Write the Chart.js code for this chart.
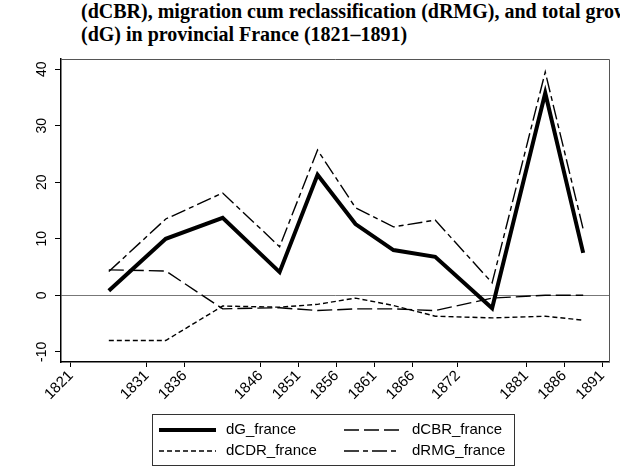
<!DOCTYPE html>
<html>
<head>
<meta charset="utf-8">
<script src="https://cdn.jsdelivr.net/npm/chart.js@4.4.1/dist/chart.umd.min.js"></script>
<style>
  html, body { margin: 0; padding: 0; background: #fff; overflow: hidden; }
  #wrap { position: relative; width: 620px; height: 472px; overflow: hidden; }
  #title {
    position: absolute; left: 81px; top: 0px;
    font: bold 20px "Liberation Serif", "Times New Roman", serif;
    line-height: 23px; white-space: nowrap; color: #000;
  }
  canvas { position: absolute; left: 0; top: 0; }
</style>
</head>
<body>
<div id="wrap">
  <div id="title">(dCBR), migration cum reclassification (dRMG), and total growth<br>(dG) in provincial France (1821–1891)</div>
  <canvas id="chart" width="620" height="472"></canvas>
</div>
<script>
// period midpoints
const years = [1826, 1833.5, 1841, 1848.5, 1853.5, 1858.5, 1863.5, 1869, 1876.5, 1883.5, 1888.5];
const dG    = [0.8, 10.0, 13.7, 4.1, 21.3, 12.6, 8.0, 6.8, -2.3, 35.8, 7.5];
const dCBR  = [4.5, 4.3, -2.4, -2.2, -2.7, -2.4, -2.4, -2.7, -0.5, 0.0, 0.0];
const dCDR  = [-8.0, -8.0, -1.9, -2.1, -1.6, -0.5, -1.8, -3.7, -4.0, -3.7, -4.4];
const dRMG  = [4.2, 13.5, 18.1, 8.6, 25.7, 15.5, 12.1, 13.3, 2.2, 39.5, 11.7];

const xTicks = [1821, 1831, 1836, 1846, 1851, 1856, 1861, 1866, 1872, 1881, 1886, 1891];
const yTicks = [-10, 0, 10, 20, 30, 40];

const pts = arr => arr.map((v, i) => ({ x: years[i], y: v }));
const FONT = '"Liberation Sans", Arial, sans-serif';

// frame, rotated y labels, boxed legend
const decor = {
  id: 'decor',
  afterDraw(chart) {
    const { ctx, chartArea: a, scales } = chart;
    ctx.save();
    ctx.strokeStyle = '#555';
    ctx.lineWidth = 1;
    ctx.beginPath();
    ctx.moveTo(a.left, a.top + 0.5);
    ctx.lineTo(a.right + 0.5, a.top + 0.5);
    ctx.lineTo(a.right + 0.5, a.bottom);
    ctx.stroke();

    // y tick labels, reading upward
    const ys = scales.y;
    ctx.fillStyle = '#000';
    ctx.font = '14px ' + FONT;
    ctx.textAlign = 'center';
    ctx.textBaseline = 'middle';
    ys.ticks.forEach(t => {
      const py = ys.getPixelForValue(t.value);
      ctx.save();
      ctx.translate(42, py);
      ctx.rotate(-Math.PI / 2);
      ctx.fillText(String(t.value), 0, 0);
      ctx.restore();
    });

    // legend
    ctx.strokeStyle = '#333';
    ctx.lineWidth = 1;
    ctx.strokeRect(152.5, 414.5, 362, 51);
    const cols = [{ x0: 159, x1: 216, tx: 226 }, { x0: 344, x1: 399, tx: 412 }];
    const rows = [430, 451];
    ctx.font = '15px ' + FONT;
    ctx.textAlign = 'left';
    chart.data.datasets.forEach((ds, k) => {
      const c = cols[k % 2], ry = rows[Math.floor(k / 2)];
      ctx.save();
      ctx.strokeStyle = ds.borderColor;
      ctx.lineWidth = ds.borderWidth;
      ctx.setLineDash(ds.borderDash || []);
      ctx.beginPath();
      ctx.moveTo(c.x0, ry);
      ctx.lineTo(c.x1, ry);
      ctx.stroke();
      ctx.restore();
      ctx.fillStyle = '#000';
      ctx.fillText(ds.label, c.tx, ry);
    });
    ctx.restore();
  }
};

new Chart(document.getElementById('chart'), {
  type: 'line',
  data: {
    datasets: [
      { label: 'dG_france',   data: pts(dG),   borderColor: '#000', borderWidth: 4,   borderDash: [] },
      { label: 'dCBR_france', data: pts(dCBR), borderColor: '#000', borderWidth: 1.4, borderDash: [15, 5] },
      { label: 'dCDR_france', data: pts(dCDR), borderColor: '#000', borderWidth: 1.4, borderDash: [5, 3] },
      { label: 'dRMG_france', data: pts(dRMG), borderColor: '#000', borderWidth: 1.4, borderDash: [15, 4, 5, 4] }
    ]
  },
  options: {
    responsive: false,
    animation: false,
    devicePixelRatio: 1,
    elements: { point: { radius: 0 }, line: { tension: 0, fill: false } },
    layout: { padding: { top: 59, right: 11, left: 0, bottom: 0 } },
    plugins: { legend: { display: false }, tooltip: { enabled: false } },
    scales: {
      x: {
        type: 'linear',
        min: 1819.7,
        max: 1891.9,
        afterBuildTicks: s => { s.ticks = xTicks.map(v => ({ value: v })); },
        afterFit: s => { s.height = 110; },
        ticks: {
          minRotation: 45, maxRotation: 45, autoSkip: false, padding: 0,
          color: '#000', font: { family: FONT, size: 15 },
          callback: v => String(v)
        },
        grid: { drawOnChartArea: false, tickLength: 5, color: '#000', lineWidth: 1 },
        border: { display: true, color: '#000', width: 1.5 }
      },
      y: {
        min: -11.8,
        max: 41.8,
        afterBuildTicks: s => { s.ticks = yTicks.map(v => ({ value: v })); },
        afterFit: s => { s.width = 61; },
        ticks: { display: false },
        grid: {
          drawOnChartArea: true,
          tickLength: 6,
          color: c => (c.tick && c.tick.value === 0 ? '#777' : 'rgba(0,0,0,0)'),
          tickColor: '#000',
          lineWidth: 1
        },
        border: { display: true, color: '#000', width: 1.5 }
      }
    }
  },
  plugins: [decor]
});
</script>
</body>
</html>
